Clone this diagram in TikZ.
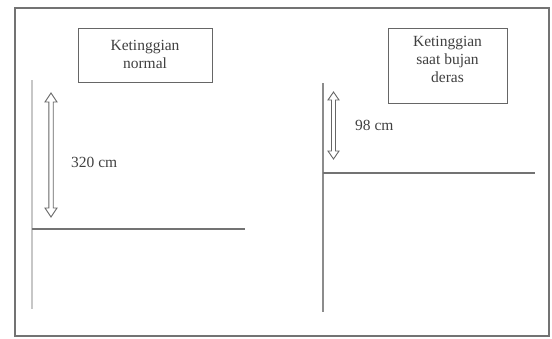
\documentclass[tikz,border=0pt]{standalone}
\usepackage{fontspec}
\setmainfont{Liberation Serif}
\begin{document}
\begin{tikzpicture}[x=1pt,y=-1pt,
  frame/.style={draw=black!55,line width=1.6pt},
  boxst/.style={draw=black!60,line width=1pt,inner sep=0pt},
  txt/.style={text=black!75,font=\fontsize{15.5}{18}\selectfont,align=center,inner sep=0pt},
  ground/.style={draw=black!55,line width=1.8pt},
  wall/.style={draw=black!45,line width=1.2pt},
  wallpale/.style={draw=black!22,line width=1.4pt},
  arr/.style={draw=black!60,line width=0.9pt,fill=white,line join=miter}]
\useasboundingbox (0,0) rectangle (552,338);
\fill[white] (0,0) rectangle (552,338);
% outer frame
\coordinate (f1) at (15,8);
\coordinate (f2) at (549,336);
\draw[frame] (f1) rectangle (f2);
% boxes
\node[boxst,minimum width=134pt,minimum height=54pt] (bl) at (145,55) {};
\node[txt] (tl) at (145,54) {Ketinggian\\normal};
\node[boxst,minimum width=119pt,minimum height=75pt] (br) at (447.5,65.5) {};
\node[txt] (tr) at (447.5,59) {Ketinggian\\saat bujan\\deras};
% left water level
\coordinate (lv1) at (32,80);
\coordinate (lv2) at (32,309);
\coordinate (lh1) at (32,229);
\coordinate (lh2) at (245,229);
\draw[wallpale] (lv1) -- (lv2);
\draw[ground] (lh1) -- (lh2);
% right water level
\coordinate (rv1) at (323,83);
\coordinate (rv2) at (323,312);
\coordinate (rh1) at (323,173);
\coordinate (rh2) at (535,173);
\draw[wall] (rv1) -- (rv2);
\draw[ground] (rh1) -- (rh2);
% left double arrow
\draw[arr] (51,93) -- (57,102) -- (53.2,102) -- (53.2,208) -- (57,208) -- (51,217) -- (45,208) -- (48.8,208) -- (48.8,102) -- (45,102) -- cycle;
% right double arrow
\draw[arr] (333.5,92) -- (339,100) -- (335.5,100) -- (335.5,151) -- (339,151) -- (333.5,159) -- (328,151) -- (331.5,151) -- (331.5,100) -- (328,100) -- cycle;
% labels
\node[txt,anchor=base west] (l320) at (71,167) {320 cm};
\node[txt,anchor=base west] (l98) at (355,130) {98 cm};
\end{tikzpicture}
\end{document}
